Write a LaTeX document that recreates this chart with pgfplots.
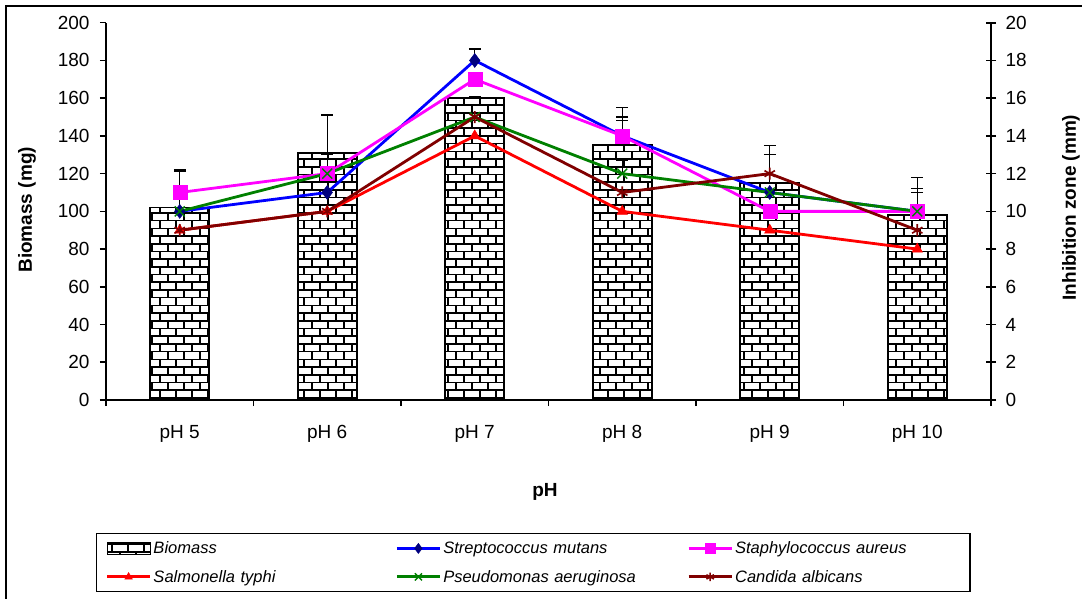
\documentclass[border=0pt]{standalone}
\usepackage{fontspec}
\setmainfont{Liberation Sans}
\usepackage{pgfplots}
\usepackage{pgfplotstable}
\pgfplotsset{compat=1.18}
\usetikzlibrary{patterns}

\definecolor{navyc}{RGB}{0,0,128}
\definecolor{xgreen}{RGB}{0,128,0}
\definecolor{xdarkred}{RGB}{128,0,0}
\definecolor{xblue}{RGB}{0,0,255}
\definecolor{xred}{RGB}{255,0,0}
\definecolor{xmagenta}{RGB}{255,0,255}

\pgfdeclarepatternformonly{bricksX}{\pgfpoint{-1pt}{-1pt}}{\pgfpoint{17pt}{17pt}}{\pgfpoint{16pt}{15.4pt}}{%
  \pgfsetlinewidth{1.6pt}%
  \pgfpathmoveto{\pgfpoint{0pt}{0pt}}\pgfpathlineto{\pgfpoint{16pt}{0pt}}%
  \pgfpathmoveto{\pgfpoint{0pt}{7.7pt}}\pgfpathlineto{\pgfpoint{16pt}{7.7pt}}%
  \pgfpathmoveto{\pgfpoint{0pt}{0pt}}\pgfpathlineto{\pgfpoint{0pt}{7.7pt}}%
  \pgfpathmoveto{\pgfpoint{8pt}{7.7pt}}\pgfpathlineto{\pgfpoint{8pt}{15.4pt}}%
  \pgfusepath{stroke}}

\pgfplotstableread{
x y e
0 102 20
1 131 20
2 160 1
3 135 20
4 115 20
5 98 20
}\biomass

\pgfplotstableread{
x strep staph salm pseudo cand
0 10 11 9 10 9
1 11 12 10 12 10
2 18 17 14 15 15
3 14 14 10 12 11
4 11 10 9 11 12
5 10 10 8 10 9
}\zones

\pgfplotstableread{
x y e
0 11 1.1
1 12 1.0
2 18 0.6
3 14 1.0
3 14 0.8
3 12 0.7
4 12 1.0
5 10 1.2
5 10 1.0
}\zoneerr

\begin{document}
\begin{tikzpicture}[x=1pt,y=1pt]
\path[use as bounding box] (0,0) rectangle (1082,598);
\draw[line width=2.5pt] (6.2,-20) -- (6.2,591.8) -- (1120,591.8);
\pgfplotsset{
  every axis/.append style={
    scale only axis, width=885pt, height=377.3pt,
    at={(106pt,198pt)}, anchor=south west,
    xmin=-0.5, xmax=5.5,
    axis line style={line width=1.6pt, black},
    tick style={line width=1.6pt, black},
    tick label style={font=\fontsize{19}{19}\selectfont},
    label style={font=\bfseries\fontsize{19}{19}\selectfont},
    /pgf/number format/assume math mode=true,
  },
}
\begin{axis}[
  axis x line*=bottom, axis y line*=left,
  ymin=0, ymax=200, ytick={0,20,...,200},
  xtick={0,1,2,3,4,5},
  xticklabels={pH 5,pH 6,pH 7,pH 8,pH 9,pH 10},
  major x tick style={draw=none},
  minor xtick={-0.5,0.5,1.5,2.5,3.5,4.5,5.5},
  tick align=outside, major tick length=6pt, minor tick length=6pt,
  xticklabel style={yshift=-16pt},
  yticklabel style={xshift=-7pt},
  ylabel={Biomass (mg)}, xlabel={pH},
  ylabel style={at={(axis description cs:-0.0893,0.504)}, anchor=center, rotate=0},
  xlabel style={at={(axis description cs:0.496,-0.2438)}, anchor=center},
]
\addplot[ybar, bar width=59pt, draw=black, line width=1.8pt, pattern=bricksX,
  error bars/.cd, y dir=plus, y explicit,
  error bar style={line width=1.4pt, black},
  error mark options={rotate=90, mark size=6pt, line width=1.4pt, black}]
  table[x=x, y=y, y error=e] {\biomass};
\end{axis}

\begin{axis}[
  axis y line*=right, axis x line=none,
  ymin=0, ymax=20, ytick={0,2,...,20},
  tick align=center, major tick length=10pt,
  yticklabel style={xshift=6pt},
  ylabel={Inhibition zone (mm)},
  ylabel style={at={(axis description cs:1.0904,0.51)}, anchor=center, rotate=0},
  legend columns=3,
  legend cell align=left,
  legend image code/.code={\draw[mark repeat=2, mark phase=2, #1, every mark/.append style={scale=0.72}] plot coordinates {(0pt,0pt) (21.5pt,0pt) (43pt,0pt)};},
  legend style={at={(axis description cs:-0.0113,-0.3525)}, anchor=north west,
    draw=black, line width=1.4pt, inner xsep=9pt, inner ysep=6pt,
    font=\itshape\fontsize{16.5}{18}\selectfont, row sep=11pt, column sep=0pt,
    /tikz/column 2/.style={text width=240pt},
    /tikz/column 4/.style={text width=242pt},
    /tikz/column 6/.style={text width=224pt},
    /tikz/column 3/.style={xshift=2pt},
    /tikz/column 4/.append style={xshift=2pt}},
]
\addlegendimage{legend image code/.code={\draw[draw=black, pattern=bricksX, line width=1pt] (0pt,-6pt) rectangle (43pt,6pt);}}
\addlegendentry{Biomass}
\addplot[forget plot, draw=none, mark=none,
  error bars/.cd, y dir=plus, y explicit,
  error bar style={line width=1.4pt, black},
  error mark options={rotate=90, mark size=6pt, line width=1.4pt, black}]
  table[x=x, y=y, y error=e] {\zoneerr};
\addplot[xblue, line width=2.8pt, mark=diamond*, mark size=7pt, mark options={fill=navyc, draw=navyc, line width=0.5pt}]
  table[x=x, y=strep] {\zones};
\addlegendentry{Streptococcus mutans}
\addplot[xmagenta, line width=2.8pt, mark=square*, mark size=7pt, mark options={fill=xmagenta, draw=xmagenta, line width=0.5pt}]
  table[x=x, y=staph] {\zones};
\addlegendentry{Staphylococcus aureus}
\addplot[xred, line width=2.8pt, mark=triangle*, mark size=6pt, mark options={fill=xred, draw=xred, line width=0.5pt}]
  table[x=x, y=salm] {\zones};
\addlegendentry{Salmonella typhi}
\addplot[xgreen, line width=2.8pt, mark=x, mark size=7pt, mark options={line width=1.4pt}]
  table[x=x, y=pseudo] {\zones};
\addlegendentry{Pseudomonas aeruginosa}
\addplot[xdarkred, line width=2.8pt, mark=asterisk, mark size=6pt, mark options={line width=1.6pt}]
  table[x=x, y=cand] {\zones};
\addlegendentry{Candida albicans}
\end{axis}
\end{tikzpicture}
\end{document}
